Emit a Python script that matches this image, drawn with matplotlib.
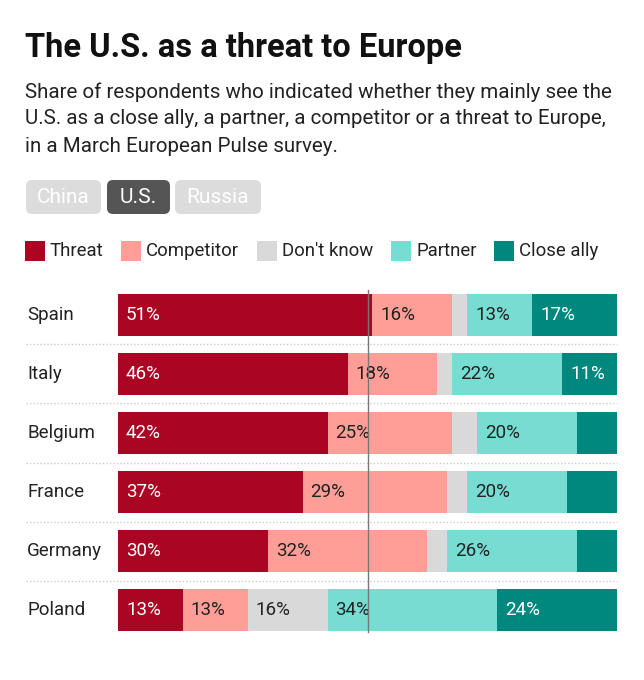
import matplotlib
matplotlib.use("Agg")
import matplotlib.pyplot as plt
from matplotlib.patches import FancyBboxPatch, Rectangle
from matplotlib.transforms import IdentityTransform
import numpy as np

plt.rcParams['font.family'] = ['Roboto', 'DejaVu Sans']

countries = ['Spain', 'Italy', 'Belgium', 'France', 'Germany', 'Poland']
categories = ['Threat', 'Competitor', "Don't know", 'Partner', 'Close ally']
threat = [51, 46, 42, 37, 30, 13]
competitor = [16, 18, 25, 29, 32, 13]
dont_know = [3, 3, 5, 4, 4, 16]
partner = [13, 22, 20, 20, 26, 34]
close_ally = [17, 11, 8, 10, 8, 24]
tabs = ['China', 'U.S.', 'Russia']

colors = ['#aa0623', '#ff9e96', '#d9d9d9', '#77ddd3', '#00877e']
label_colors = ['white', '#222222', '#222222', '#222222', 'white']

W, H = 644, 680
fig = plt.figure(figsize=(W / 100, H / 100), dpi=100)
fig.patch.set_facecolor('white')


def fy(py):
    return 1 - py / H


# header text
fig.text(25 / W, fy(48), 'The U.S. as a threat to Europe', fontsize=23.5, fontweight='bold',
         color='#111111', va='center', ha='left')
sub = ['Share of respondents who indicated whether they mainly see the',
       'U.S. as a close ally, a partner, a competitor or a threat to Europe,',
       'in a March European Pulse survey.']
for i, line in enumerate(sub):
    fig.text(25 / W, fy(92 + 27 * i), line, fontsize=14.8, color='#222222', va='center', ha='left')

# tab buttons
tab_x = [(26, 101), (107, 170), (175, 261)]
for name, (x0, x1) in zip(tabs, tab_x):
    active = name == 'U.S.'
    box = FancyBboxPatch((x0 + 4, H - 214 + 4), x1 - x0 - 8, 34 - 8,
                         boxstyle='round,pad=4,rounding_size=6',
                         transform=IdentityTransform(),
                         facecolor='#555555' if active else '#dcdcdc', edgecolor='none')
    fig.add_artist(box)
    fig.text((x0 + x1) / 2 / W, fy(197), name, fontsize=15, color='white',
             ha='center', va='center')

# legend
legend_x = [25, 121, 257, 391, 494]
for cat, col, lx in zip(categories, colors, legend_x):
    fig.add_artist(Rectangle((lx, H - 261), 20, 20, transform=IdentityTransform(),
                             facecolor=col, edgecolor='none'))
    fig.text((lx + 25) / W, fy(251.5), cat, fontsize=13.4, color='#222222', ha='left', va='center')

# bars
ax = fig.add_axes([118 / W, fy(639.5), (617 - 118) / W, 354 / H])
series = [threat, competitor, dont_know, partner, close_ally]
y = np.arange(len(countries))
left = np.zeros(len(countries))
for vals, col, tc in zip(series, colors, label_colors):
    vals = np.array(vals)
    ax.barh(y, vals, left=left, height=0.71, color=col, edgecolor='none')
    for yi, l, v in zip(y, left, vals):
        if v >= 11:
            ax.text(l + 1.6, yi, f'{v}%', color=tc, fontsize=13.5, va='center', ha='left')
    left += vals

ax.set_xlim(0, 100)
ax.set_ylim(5.5, -0.5)
ax.axis('off')

# 50% reference line
ax.plot([50, 50], [-0.42, 5.37], color='#777777', lw=1, zorder=5)

# separators between rows
for i in range(len(countries) - 1):
    ax.plot([-18.4, 100], [i + 0.5, i + 0.5], color='#cccccc', lw=1, ls=(0, (1, 1.5)),
            clip_on=False)

for yi, c in zip(y, countries):
    ax.text(-18.2, yi, c, fontsize=13.5, color='#222222', ha='left', va='center')

fig.savefig('out.png', dpi=100, facecolor='white')
